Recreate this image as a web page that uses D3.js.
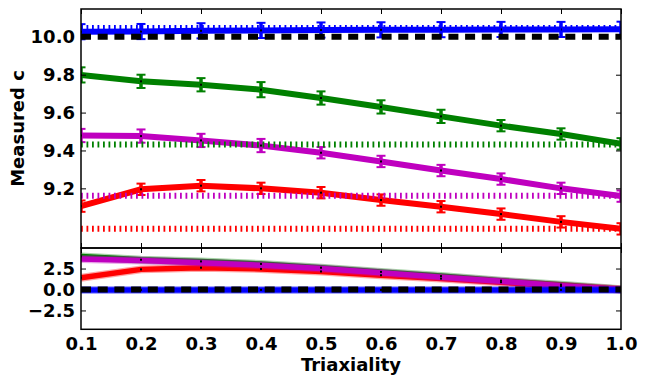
<!DOCTYPE html>
<html>
<head>
<meta charset="utf-8">
<script src="https://cdn.jsdelivr.net/npm/d3@7"></script>
<style>
  body { margin: 0; background: #fff; }
  text { font-family: "DejaVu Sans", sans-serif; font-weight: bold; }
</style>
</head>
<body>
<svg class="main" width="647" height="385"></svg>
<script>
// Triaxiality values shared by every series
var triax = [0.1, 0.2, 0.3, 0.4, 0.5, 0.6, 0.7, 0.8, 0.9, 1.0];

// measured c (top panel) and its error
var blueC = [10.027, 10.028, 10.032, 10.034, 10.036, 10.037, 10.038, 10.039, 10.039, 10.04],
    greenC = [9.799, 9.765, 9.747, 9.721, 9.677, 9.630, 9.580, 9.531, 9.487, 9.435],
    magentaC = [9.479, 9.476, 9.453, 9.426, 9.388, 9.342, 9.294, 9.249, 9.200, 9.159],
    redC = [9.106, 9.195, 9.214, 9.200, 9.177, 9.138, 9.103, 9.064, 9.023, 8.986];

var blueErr = [0.04, 0.04, 0.04, 0.04, 0.04, 0.04, 0.04, 0.04, 0.04, 0.04],
    greenErr = [0.04, 0.035, 0.035, 0.04, 0.035, 0.035, 0.035, 0.03, 0.03, 0.03],
    magentaErr = [0.035, 0.035, 0.035, 0.035, 0.03, 0.03, 0.03, 0.03, 0.03, 0.03],
    redErr = [0.03, 0.03, 0.03, 0.03, 0.03, 0.03, 0.03, 0.03, 0.03, 0.03];

// true c values (dotted / dashed reference lines)
var trueC = {
    black: 10.0,
    blue: 10.047,
    green: 9.432,
    magenta: 9.161,
    red: 8.986
};

// percent difference (lower panel)
var blueDiff = [-0.05, -0.05, -0.05, -0.05, -0.05, -0.05, -0.05, -0.05, -0.05, -0.05],
    greenDiff = [3.95, 3.55, 3.35, 3.05, 2.6, 2.1, 1.6, 1.05, 0.58, 0.02],
    magentaDiff = [3.65, 3.45, 3.2, 2.9, 2.5, 2.0, 1.47, 0.97, 0.45, 0.0],
    redDiff = [1.4, 2.4, 2.6, 2.45, 2.15, 1.7, 1.3, 0.87, 0.42, 0.0];

var xTicks = [0.1, 0.2, 0.3, 0.4, 0.5, 0.6, 0.7, 0.8, 0.9, 1.0],
    yTicksTop = [9.2, 9.4, 9.6, 9.8, 10.0],
    yTicksBottom = [-2.5, 0.0, 2.5];

var colors = {
    blue: "#0000ff",
    green: "#008000",
    magenta: "#bf00bf",
    red: "#ff0000"
};

var layout = {
    left: 81,
    right: 621,
    top: 9,
    mid: 248,
    bottom: 329.3
};

var svg = d3.select(".main");

var x = d3.scaleLinear().domain([0.1, 1.0]).range([layout.left, layout.right]);
var yTop = d3.scaleLinear().domain([8.885, 10.147]).range([layout.mid, layout.top]);
var yBot = d3.scaleLinear().domain([-4.75, 4.95]).range([layout.bottom, layout.mid]);

var defs = svg.append("defs");
defs.append("clipPath").attr("id", "clipTop").append("rect")
    .attr("x", layout.left).attr("y", layout.top)
    .attr("width", layout.right - layout.left).attr("height", layout.mid - layout.top);
defs.append("clipPath").attr("id", "clipBot").append("rect")
    .attr("x", layout.left).attr("y", layout.mid)
    .attr("width", layout.right - layout.left).attr("height", layout.bottom - layout.mid);

/**
 * Top panel
 */
var topPanel = svg.append("g").attr("clip-path", "url(#clipTop)");

var series = [
    { key: "blue", c: blueC, err: blueErr },
    { key: "green", c: greenC, err: greenErr },
    { key: "magenta", c: magentaC, err: magentaErr },
    { key: "red", c: redC, err: redErr }
];

var lineTop = d3.line()
    .x(function(d) { return x(d.x); })
    .y(function(d) { return yTop(d.y); });

series.forEach(function(s) {
    var pts = triax.map(function(t, i) {
        return { x: t, y: s.c[i], e: s.err[i] };
    });

    topPanel.append("path")
        .datum(pts)
        .attr("fill", "none")
        .attr("stroke", colors[s.key])
        .attr("stroke-width", 6)
        .attr("d", lineTop);

    var bars = topPanel.append("g").selectAll("g")
        .data(pts)
        .enter()
        .append("g")
        .attr("stroke", colors[s.key]);

    bars.append("line")
        .attr("x1", function(d) { return x(d.x); })
        .attr("x2", function(d) { return x(d.x); })
        .attr("y1", function(d) { return yTop(d.y + d.e); })
        .attr("y2", function(d) { return yTop(d.y - d.e); })
        .attr("stroke-width", 3.5);

    [1, -1].forEach(function(sign) {
        bars.append("line")
            .attr("x1", function(d) { return x(d.x) - 4.5; })
            .attr("x2", function(d) { return x(d.x) + 4.5; })
            .attr("y1", function(d) { return yTop(d.y + sign * d.e); })
            .attr("y2", function(d) { return yTop(d.y + sign * d.e); })
            .attr("stroke-width", 2);
    });

    topPanel.append("g").selectAll("rect")
        .data(pts)
        .enter()
        .append("rect")
        .attr("x", function(d) { return x(d.x) - 1; })
        .attr("y", function(d) { return yTop(d.y) - 1; })
        .attr("width", 2)
        .attr("height", 2)
        .attr("fill", "#000");
});

// dotted true-value lines
["blue", "green", "magenta", "red"].forEach(function(k) {
    topPanel.append("line")
        .attr("x1", x(0.1)).attr("x2", x(1.0))
        .attr("y1", yTop(trueC[k])).attr("y2", yTop(trueC[k]))
        .attr("stroke", colors[k])
        .attr("stroke-width", 6)
        .attr("stroke-dasharray", "1.8,3.7");
});

topPanel.append("line")
    .attr("x1", x(0.1)).attr("x2", x(1.0))
    .attr("y1", yTop(trueC.black)).attr("y2", yTop(trueC.black))
    .attr("stroke", "#000")
    .attr("stroke-width", 6)
    .attr("stroke-dasharray", "10,6.7");

/**
 * Lower panel
 */
var botPanel = svg.append("g").attr("clip-path", "url(#clipBot)");

var lineBot = d3.line()
    .x(function(d) { return x(d.x); })
    .y(function(d) { return yBot(d.y); });

var diffs = [
    { key: "green", v: greenDiff },
    { key: "red", v: redDiff },
    { key: "magenta", v: magentaDiff },
    { key: "blue", v: blueDiff }
];

diffs.forEach(function(s) {
    var pts = triax.map(function(t, i) { return { x: t, y: s.v[i] }; });

    botPanel.append("path")
        .datum(pts)
        .attr("fill", "none")
        .attr("stroke", colors[s.key])
        .attr("stroke-opacity", 0.35)
        .attr("stroke-width", 8)
        .attr("d", lineBot);

    botPanel.append("path")
        .datum(pts)
        .attr("fill", "none")
        .attr("stroke", colors[s.key])
        .attr("stroke-width", 5.5)
        .attr("d", lineBot);
});

botPanel.append("line")
    .attr("x1", x(0.1)).attr("x2", x(1.0))
    .attr("y1", yBot(0)).attr("y2", yBot(0))
    .attr("stroke", "#000")
    .attr("stroke-width", 6)
    .attr("stroke-dasharray", "10,6.7");

[greenDiff, redDiff, blueDiff].forEach(function(v) {
    botPanel.append("g").selectAll("rect")
        .data(triax.map(function(t, i) { return { x: t, y: v[i] }; }))
        .enter()
        .append("rect")
        .attr("x", function(d) { return x(d.x) - 1; })
        .attr("y", function(d) { return yBot(d.y) - 1; })
        .attr("width", 2)
        .attr("height", 2)
        .attr("fill", "#000");
});

/**
 * Axes
 */
function tickSet(g, scale, ticks, fmt) {
    // left axis with labels, ticks inward
    g.append("g")
        .attr("transform", "translate(" + layout.left + ",0)")
        .call(d3.axisLeft(scale).tickValues(ticks).tickSize(-5).tickPadding(6).tickFormat(fmt))
        .call(function(a) {
            a.select(".domain").remove();
            a.selectAll("text").attr("font-size", 18).attr("fill", "#000")
                .style("font-family", "'DejaVu Sans', sans-serif").style("font-weight", "bold");
        });
    g.append("g")
        .attr("transform", "translate(" + layout.right + ",0)")
        .call(d3.axisRight(scale).tickValues(ticks).tickSize(-5).tickFormat(""))
        .call(function(a) { a.select(".domain").remove(); });
}

tickSet(svg, yTop, yTicksTop, d3.format(".1f"));
tickSet(svg, yBot, yTicksBottom, function(d) { return d3.format(".1f")(d).replace("-", "\u2212"); });

// x ticks along the panel edges
svg.append("g")
    .attr("transform", "translate(0," + layout.top + ")")
    .call(d3.axisTop(x).tickValues(xTicks).tickSize(-5).tickFormat(""))
    .call(function(a) { a.select(".domain").remove(); });
svg.append("g")
    .attr("transform", "translate(0," + layout.mid + ")")
    .call(d3.axisBottom(x).tickValues(xTicks).tickSize(-5).tickFormat(""))
    .call(function(a) { a.select(".domain").remove(); });
svg.append("g")
    .attr("transform", "translate(0," + layout.mid + ")")
    .call(d3.axisTop(x).tickValues(xTicks).tickSize(-5).tickFormat(""))
    .call(function(a) { a.select(".domain").remove(); });
svg.append("g")
    .attr("transform", "translate(0," + layout.bottom + ")")
    .call(d3.axisBottom(x).tickValues(xTicks).tickSize(0).tickPadding(8).tickFormat(d3.format(".1f")))
    .call(function(a) {
        a.select(".domain").remove();
        a.selectAll("text").attr("font-size", 18).attr("fill", "#000")
            .style("font-family", "'DejaVu Sans', sans-serif").style("font-weight", "bold");
    });

// frames
[[layout.top, layout.mid], [layout.mid, layout.bottom]].forEach(function(r) {
    svg.append("rect")
        .attr("x", layout.left).attr("y", r[0])
        .attr("width", layout.right - layout.left).attr("height", r[1] - r[0])
        .attr("fill", "none")
        .attr("stroke", "#000")
        .attr("stroke-width", 1.5);
});

// labels
svg.append("text")
    .attr("transform", "translate(24," + ((layout.top + layout.mid) / 2) + ") rotate(-90)")
    .attr("text-anchor", "middle")
    .attr("font-size", 18)
    .text("Measured c");

svg.append("text")
    .attr("x", (layout.left + layout.right) / 2)
    .attr("y", 371)
    .attr("text-anchor", "middle")
    .attr("font-size", 18)
    .text("Triaxiality");
</script>
</body>
</html>
